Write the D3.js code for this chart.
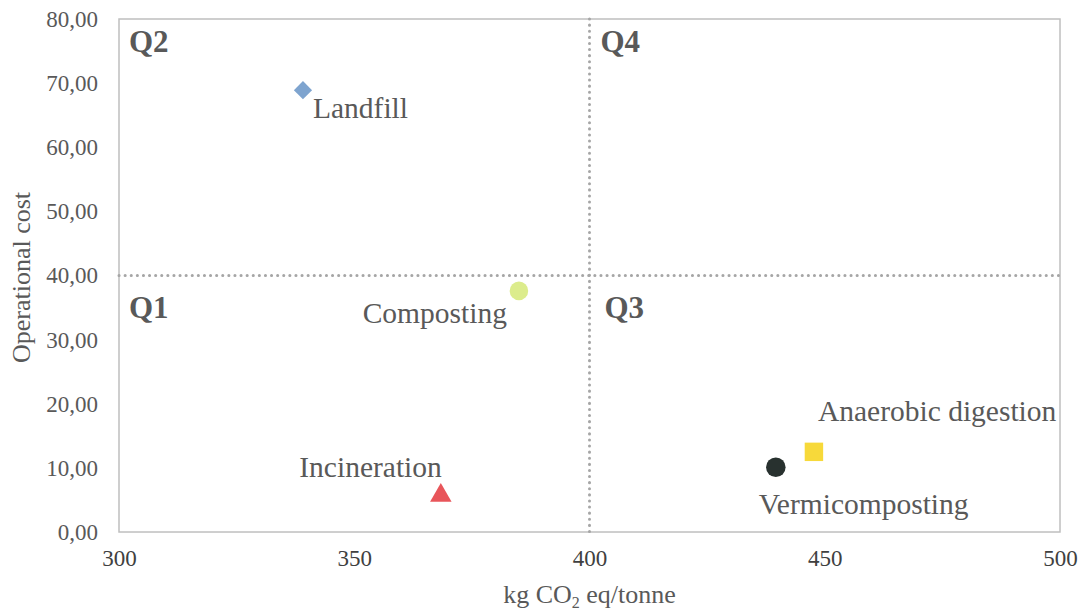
<!DOCTYPE html>
<html><head><meta charset="utf-8">
<script src="https://cdn.jsdelivr.net/npm/d3@7"></script>
<style>body{margin:0;background:#fff}svg{display:block}text{font-family:"Liberation Serif","Times New Roman",serif}</style>
</head><body>
<svg id="chart" width="1083" height="614"></svg>
<script>
const names = ["Landfill","Composting","Incineration","Vermicomposting","Anaerobic digestion"];
const co2 = [339.1, 385.0, 368.4, 439.6, 447.7];
const cost = [68.9, 37.6, 5.7, 10.1, 12.5];
const xTicks = [300,350,400,450,500];
const yTicks = [0,10,20,30,40,50,60,70,80];
const quadrants = ["Q1","Q2","Q3","Q4"];

const shapes = [d3.symbolSquare, d3.symbolCircle, d3.symbolTriangle, d3.symbolCircle, d3.symbolSquare];
const rot = [45,0,0,0,0];
const colors = ["#7ea4cf","#dcec8c","#e8555a","#28312f","#f7d93a"];
const sizes = [165, 270, 200, 300, 340];
// label offsets [dx, dy, anchor]
const labelPos = [[10,28,"start"],[-12,32,"end"],[1,-18,"end"],[-17,47,"start"],[4,-31,"start"]];

const svg = d3.select("#chart");
const L=119, R=1060, T=19, B=532;
const x = d3.scaleLinear().domain([300,500]).range([L,R]);
const y = d3.scaleLinear().domain([0,80]).range([B,T]);
const txt = "#595959";

// frame
svg.append("rect").attr("x",L).attr("y",T).attr("width",R-L).attr("height",B-T)
  .attr("fill","none").attr("stroke","#bfbfbf").attr("stroke-width",1.5);

// quadrant dividers
svg.append("line").attr("x1",x(400)).attr("x2",x(400)).attr("y1",T).attr("y2",B)
  .attr("stroke","#a6a6a6").attr("stroke-width",3).attr("stroke-dasharray","0.1,6").attr("stroke-linecap","round");
svg.append("line").attr("x1",L).attr("x2",R).attr("y1",y(40)).attr("y2",y(40))
  .attr("stroke","#a6a6a6").attr("stroke-width",3).attr("stroke-dasharray","0.1,6").attr("stroke-linecap","round");

// axes
const xAxis = svg.append("g").attr("transform",`translate(0,${B})`)
  .call(d3.axisBottom(x).tickValues(xTicks).tickSize(0).tickPadding(18).tickFormat(d3.format("d")));
xAxis.select(".domain").remove();
xAxis.selectAll("text").attr("font-size",23).attr("fill","#404040").attr("font-family","Liberation Serif");

const fmt = d => d.toFixed(2).replace(".",",");
const yAxis = svg.append("g").attr("transform",`translate(${L},0)`)
  .call(d3.axisLeft(y).tickValues(yTicks).tickSize(0).tickPadding(21).tickFormat(fmt));
yAxis.select(".domain").remove();
yAxis.selectAll("text").attr("font-size",23).attr("fill",txt).attr("font-family","Liberation Serif");

// axis titles
const xt = svg.append("text").attr("x",(L+R)/2).attr("y",603).attr("text-anchor","middle")
  .attr("font-size",26).attr("fill",txt);
xt.append("tspan").text("kg CO");
xt.append("tspan").text("2").attr("font-size",16).attr("dy",5);
xt.append("tspan").text(" eq/tonne").attr("dy",-5);

svg.append("text").attr("transform",`translate(30,${(T+B)/2 + 2}) rotate(-90)`).attr("text-anchor","middle")
  .attr("font-size",26).attr("fill",txt).text("Operational cost");

// quadrant labels
const qx = [L+10, L+10, x(400)+15, x(400)+11];
const qy = [318, 52, 318, 52];
svg.selectAll(".q").data(quadrants).enter().append("text")
  .attr("x",(d,i)=>qx[i]).attr("y",(d,i)=>qy[i]).attr("font-size",31).attr("font-weight","bold")
  .attr("fill",txt).text(d=>d);

// points
const idx = d3.range(names.length);
svg.selectAll(".pt").data(idx).enter().append("path")
  .attr("transform",i=>`translate(${x(co2[i])},${y(cost[i])}) rotate(${rot[i]})`)
  .attr("d",i=>d3.symbol().type(shapes[i]).size(sizes[i])())
  .attr("fill",i=>colors[i]);

svg.selectAll(".lbl").data(idx).enter().append("text")
  .attr("x",i=>x(co2[i])+labelPos[i][0]).attr("y",i=>y(cost[i])+labelPos[i][1])
  .attr("text-anchor",i=>labelPos[i][2]).attr("font-size",29.5).attr("fill",txt).text(i=>names[i]);
</script>
</body></html>
